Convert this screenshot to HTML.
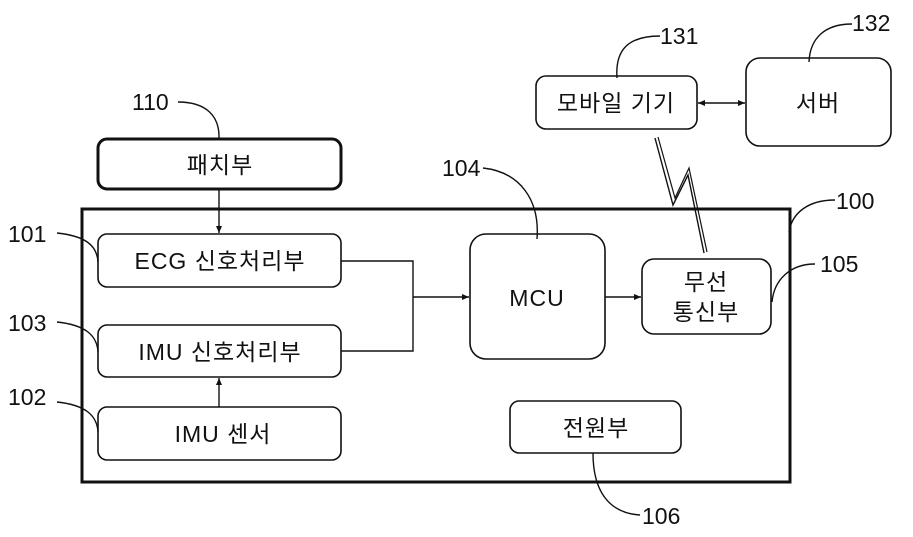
<!DOCTYPE html>
<html><head><meta charset="utf-8"><style>
html,body{margin:0;padding:0;background:#fff}
svg{display:block}
text{font-family:"Liberation Sans","Noto Sans CJK KR",sans-serif;fill:#111}
</style></head><body>
<svg width="913" height="537" viewBox="0 0 913 537" xmlns="http://www.w3.org/2000/svg">
<defs>
<marker id="a" markerWidth="8" markerHeight="8" refX="7" refY="4" orient="auto-start-reverse" markerUnits="userSpaceOnUse"><path d="M0,1 L7,4 L0,7 z" fill="#111"/></marker>
</defs>
<g fill="none" stroke="#111">
<rect x="82" y="209" width="708" height="273" stroke-width="3"/>
<rect x="98" y="139" width="243" height="50" rx="9" stroke-width="3"/>
<rect x="98" y="234" width="243" height="53" rx="9" stroke-width="1.6"/>
<rect x="98" y="325" width="243" height="52" rx="9" stroke-width="1.6"/>
<rect x="98" y="407" width="243" height="53" rx="9" stroke-width="1.6"/>
<rect x="470" y="234" width="135" height="125" rx="16" stroke-width="1.6"/>
<rect x="642" y="259" width="129" height="75" rx="12" stroke-width="1.6"/>
<rect x="510" y="401" width="171" height="52" rx="9" stroke-width="1.6"/>
<rect x="536" y="76" width="161" height="53" rx="10" stroke-width="1.6"/>
<rect x="746" y="58" width="145" height="88" rx="14" stroke-width="1.6"/>
<g stroke-width="1.4">
<line x1="219" y1="189" x2="219" y2="233" marker-end="url(#a)"/>
<line x1="219" y1="407" x2="219" y2="378" marker-end="url(#a)"/>
<polyline points="341,261 413,261 413,351 341,351"/>
<line x1="413" y1="297" x2="469" y2="297" marker-end="url(#a)"/>
<line x1="605" y1="297" x2="641" y2="297" marker-end="url(#a)"/>
<line x1="698" y1="103" x2="745" y2="103" marker-start="url(#a)" marker-end="url(#a)"/>
<polyline points="655,138 673,205 688,175 704,253" stroke-width="1.4"/>
<polyline points="658,137 675,198 689,168 707,252" stroke-width="1.2"/>
<path d="M178,102 C205,102 220,115 219,139"/>
<path d="M57,233 C85,236 97,245 98,262"/>
<path d="M57,322 C85,325 97,335 98,352"/>
<path d="M57,402 C85,405 97,415 98,432"/>
<path d="M537,239 C540,200 520,172 483,168"/>
<path d="M617,78 C615,50 628,36 660,36"/>
<path d="M809,62 C810,38 825,24 852,24"/>
<path d="M789,232 C792,213 808,200 835,200"/>
<path d="M772,302 C774,280 790,264 815,264"/>
<path d="M593,453 C593,490 608,513 640,515"/>
</g>
</g>
<g font-size="23" text-anchor="middle" letter-spacing="1">
<text x="220" y="173">패치부</text>
<text x="220" y="269">ECG 신호처리부</text>
<text x="220" y="360">IMU 신호처리부</text>
<text x="223" y="442">IMU 센서</text>
<text x="537" y="306">MCU</text>
<text x="706" y="290">무선</text>
<text x="706" y="320">통신부</text>
<text x="596" y="436">전원부</text>
<text x="616" y="111">모바일 기기</text>
<text x="818" y="111">서버</text>
</g>
<g font-size="23">
<text x="132" y="110">110</text>
<text x="8" y="242">101</text>
<text x="8" y="331">103</text>
<text x="8" y="405">102</text>
<text x="442" y="176">104</text>
<text x="660" y="44">131</text>
<text x="852" y="31">132</text>
<text x="836" y="209">100</text>
<text x="820" y="272">105</text>
<text x="642" y="524">106</text>
</g>
</svg>
</body></html>
